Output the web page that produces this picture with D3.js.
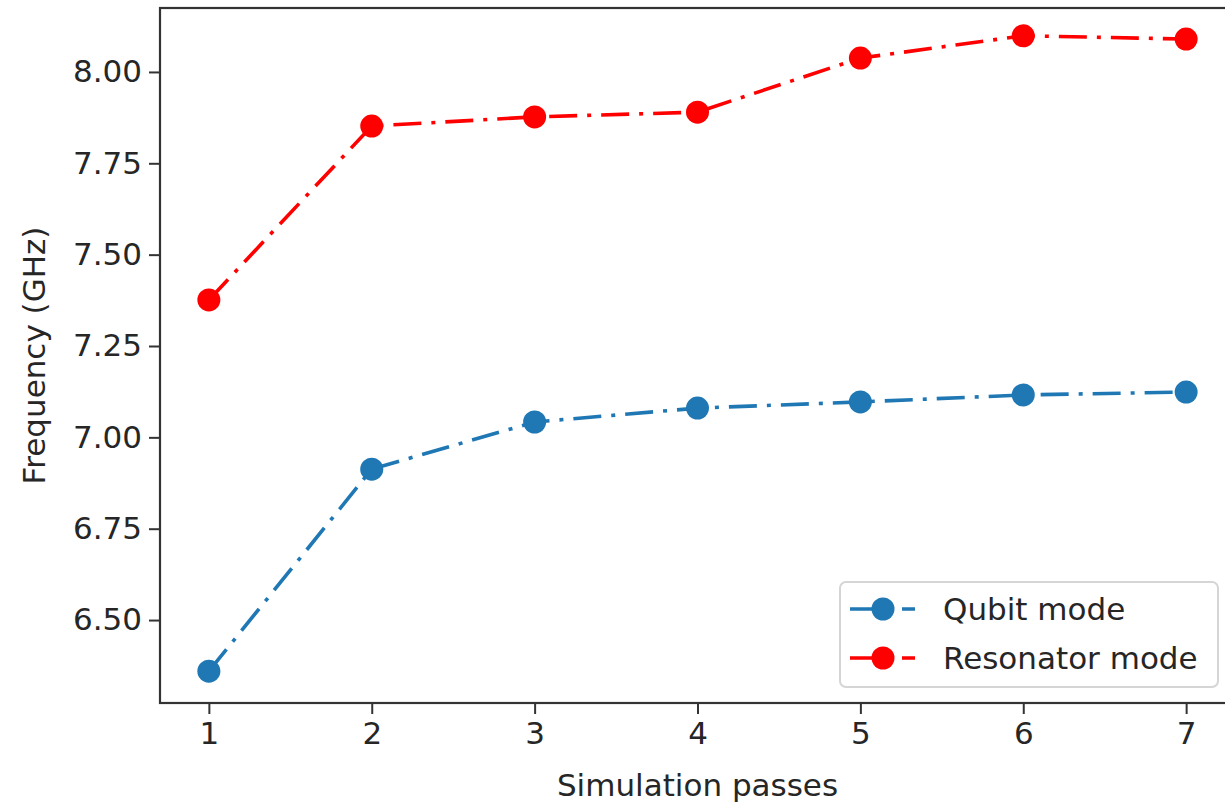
<!DOCTYPE html>
<html>
<head>
<meta charset="utf-8">
<script src="https://cdn.jsdelivr.net/npm/d3@7"></script>
<style>
	body { margin: 0; background: white; }
	svg { display: block; }
	text { font-family: "DejaVu Sans", sans-serif; fill: #262626; }
</style>
</head>
<body>
<div id="plot"></div>
<script>
const passes = [1, 2, 3, 4, 5, 6, 7];
const qubitFreq = [6.36, 6.913, 7.042, 7.08, 7.097, 7.116, 7.124];
const resonatorFreq = [7.376, 7.852, 7.877, 7.89, 8.038, 8.099, 8.09];
const yTicks = [6.5, 6.75, 7.0, 7.25, 7.5, 7.75, 8.0];
const seriesNames = ["Qubit mode", "Resonator mode"];
const seriesColors = ["#1f77b4", "#ff0000"];

const W = 1225, H = 802;
const plot = { left: 160, right: 1235, top: 8, bottom: 703 };

const svg = d3
	.select("#plot")
	.append("svg")
	.attr("width", W)
	.attr("height", H);

const x = d3.scaleLinear().domain([0.7, 7.3]).range([plot.left, plot.right]);
const y = d3.scaleLinear().domain([6.273, 8.175]).range([plot.bottom, plot.top]);

const fontSize = 31;

// x axis
const xAxis = svg
	.append("g")
	.attr("transform", `translate(0,${plot.bottom})`)
	.call(d3.axisBottom(x).tickValues(passes).tickFormat(d3.format("d")).tickSize(11).tickPadding(8).tickSizeOuter(0));
xAxis.select(".domain").remove();
xAxis.selectAll("line").attr("stroke", "#333").attr("stroke-width", 2);
xAxis.selectAll("text").style("font-size", fontSize + "px").attr("fill", "#262626");

// y axis
const yAxis = svg
	.append("g")
	.attr("transform", `translate(${plot.left},0)`)
	.call(d3.axisLeft(y).tickValues(yTicks).tickFormat(d3.format(".2f")).tickSize(11).tickPadding(7).tickSizeOuter(0));
yAxis.select(".domain").remove();
yAxis.selectAll("line").attr("stroke", "#333").attr("stroke-width", 2);
yAxis.selectAll("text").style("font-size", fontSize + "px").attr("fill", "#262626");

// frame
svg
	.append("rect")
	.attr("x", plot.left)
	.attr("y", plot.top)
	.attr("width", plot.right - plot.left)
	.attr("height", plot.bottom - plot.top)
	.attr("fill", "none")
	.attr("stroke", "#333")
	.attr("stroke-width", 2.2);

// axis labels
svg
	.append("text")
	.attr("x", (plot.left + plot.right) / 2)
	.attr("y", 796)
	.attr("text-anchor", "middle")
	.style("font-size", fontSize + "px")
	.text("Simulation passes");

svg
	.append("text")
	.attr("transform", `translate(45,${(plot.top + plot.bottom) / 2}) rotate(-90)`)
	.attr("text-anchor", "middle")
	.style("font-size", fontSize + "px")
	.text("Frequency (GHz)");

// series
const series = [qubitFreq, resonatorFreq];
const dash = "28,10,4,10";
const line = d3
	.line()
	.x((d, i) => x(passes[i]))
	.y((d) => y(d));

series.forEach((values, k) => {
	svg
		.append("path")
		.datum(values)
		.attr("d", line)
		.attr("fill", "none")
		.attr("stroke", seriesColors[k])
		.attr("stroke-width", 3.6)
		.attr("stroke-dasharray", dash);

	svg
		.selectAll(null)
		.data(values)
		.enter()
		.append("circle")
		.attr("cx", (d, i) => x(passes[i]))
		.attr("cy", (d) => y(d))
		.attr("r", 11.5)
		.attr("fill", seriesColors[k]);
});

// legend
const legend = svg.append("g").attr("transform", "translate(840,582)");
legend
	.append("rect")
	.attr("width", 378)
	.attr("height", 105)
	.attr("rx", 6)
	.attr("fill", "white")
	.attr("fill-opacity", 0.8)
	.attr("stroke", "#d5d5d5")
	.attr("stroke-width", 2);

seriesNames.forEach((name, k) => {
	const ly = 27 + k * 49;
	legend
		.append("line")
		.attr("x1", 10)
		.attr("x2", 75)
		.attr("y1", ly)
		.attr("y2", ly)
		.attr("stroke", seriesColors[k])
		.attr("stroke-width", 3.6)
		.attr("stroke-dasharray", dash);
	legend
		.append("circle")
		.attr("cx", 43)
		.attr("cy", ly)
		.attr("r", 11.5)
		.attr("fill", seriesColors[k]);
	legend
		.append("text")
		.attr("x", 103)
		.attr("y", ly)
		.attr("dy", "0.35em")
		.style("font-size", fontSize + "px")
		.text(name);
});
</script>
</body>
</html>
